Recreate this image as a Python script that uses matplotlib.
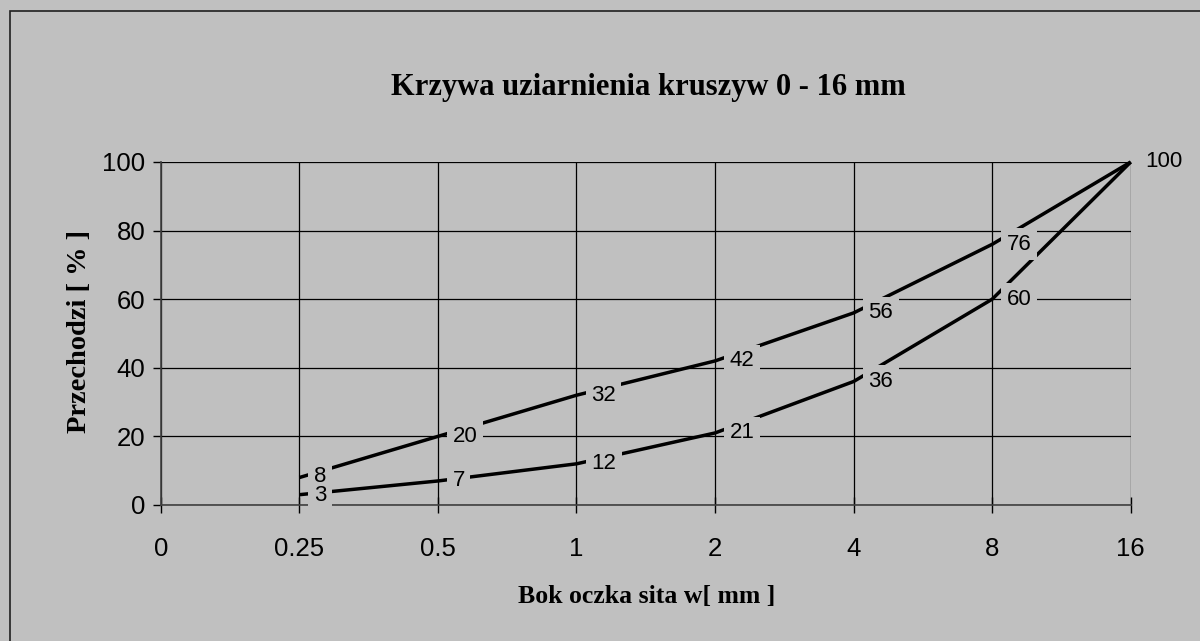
import numpy as np
import matplotlib
matplotlib.use("Agg")
import matplotlib.pyplot as plt
from matplotlib.patches import Rectangle

# -------------------------------------------------------------------
# Data: sieve sizes (categorical axis) and passing percentages
# -------------------------------------------------------------------
sieve_labels = ["0", "0.25", "0.5", "1", "2", "4", "8", "16"]
upper_curve = [8, 20, 32, 42, 56, 76, 100]
lower_curve = [3, 7, 12, 21, 36, 60, 100]
y_ticks = [0, 20, 40, 60, 80, 100]

title = "Krzywa uziarnienia kruszyw 0 - 16 mm"
xlabel = "Bok oczka sita w[ mm ]"
ylabel = "Przechodzi [ % ]"

BG = "#c0c0c0"
SERIF = "Liberation Serif"
SANS = "Liberation Sans"

fig = plt.figure(figsize=(12, 6.41), dpi=100, facecolor=BG)
ax = fig.add_axes([0.134, 0.2122, 0.8083, 0.5351])
ax.set_facecolor(BG)

# figure frame (only left/top edges visible in the original)
fig.patches.append(Rectangle((10 / 1200, -0.1), 1.2, 1 - 11 / 641 + 0.1,
                             transform=fig.transFigure, fill=False,
                             edgecolor="#202020", linewidth=1.2, zorder=0))

x_pos = np.arange(1, len(sieve_labels))


def _label(xp, val, dy):
    # background box first (invisible text), then the visible text on top
    kw = dict(xytext=(10.5, dy), textcoords="offset points", ha="left",
              va="center", fontsize=16, family=SANS, annotation_clip=False)
    ax.annotate(str(val), (xp, val), color=(0, 0, 0, 0), zorder=4,
                bbox=dict(boxstyle="square,pad=0.25", facecolor=BG,
                          edgecolor="none"), **kw)
    ax.annotate(str(val), (xp, val), color="black", zorder=6, **kw)


done = set()
for curve, dy in ((lower_curve, -0.8), (upper_curve, 0.8)):
    ax.plot(x_pos, curve, color="black", linewidth=2.5, zorder=3,
            solid_capstyle="butt", clip_on=False)
    for i, (xp, val) in enumerate(zip(x_pos, curve)):
        if (xp, val) in done:  # both curves end at the same point
            continue
        done.add((xp, val))
        _label(xp, val, dy if i == 0 else 0)

ax.set_xlim(0, len(sieve_labels) - 1)
ax.set_ylim(0, 100)
ax.set_xticks(np.arange(len(sieve_labels)))
ax.set_xticklabels(sieve_labels)
ax.set_yticks(y_ticks)

ax.grid(True, color="black", linewidth=0.9)
ax.set_axisbelow(True)
for side in ("top", "right"):
    ax.spines[side].set_visible(False)
for side in ("left", "bottom"):
    ax.spines[side].set_color("#404040")
    ax.spines[side].set_linewidth(1.2)

ax.tick_params(axis="x", direction="inout", length=12, width=1,
               labelsize=18.5, pad=17, colors="black")
ax.tick_params(axis="y", direction="out", length=6, width=1,
               labelsize=18.5, pad=5, colors="black")
for lab in ax.get_xticklabels() + ax.get_yticklabels():
    lab.set_family(SANS)

fig.text(0.54, 1 - 87 / 641, title, ha="center", va="center",
         fontsize=22, fontweight="bold", family=SERIF)
fig.text(0.539, 1 - 597 / 641, xlabel, ha="center", va="center",
         fontsize=18.5, fontweight="bold", family=SERIF)
fig.text(0.066, 1 - 331 / 641, ylabel, ha="center", va="center",
         rotation=90, fontsize=20.5, fontweight="bold", family=SERIF)

fig.savefig("out.png", dpi=100, facecolor=BG)
